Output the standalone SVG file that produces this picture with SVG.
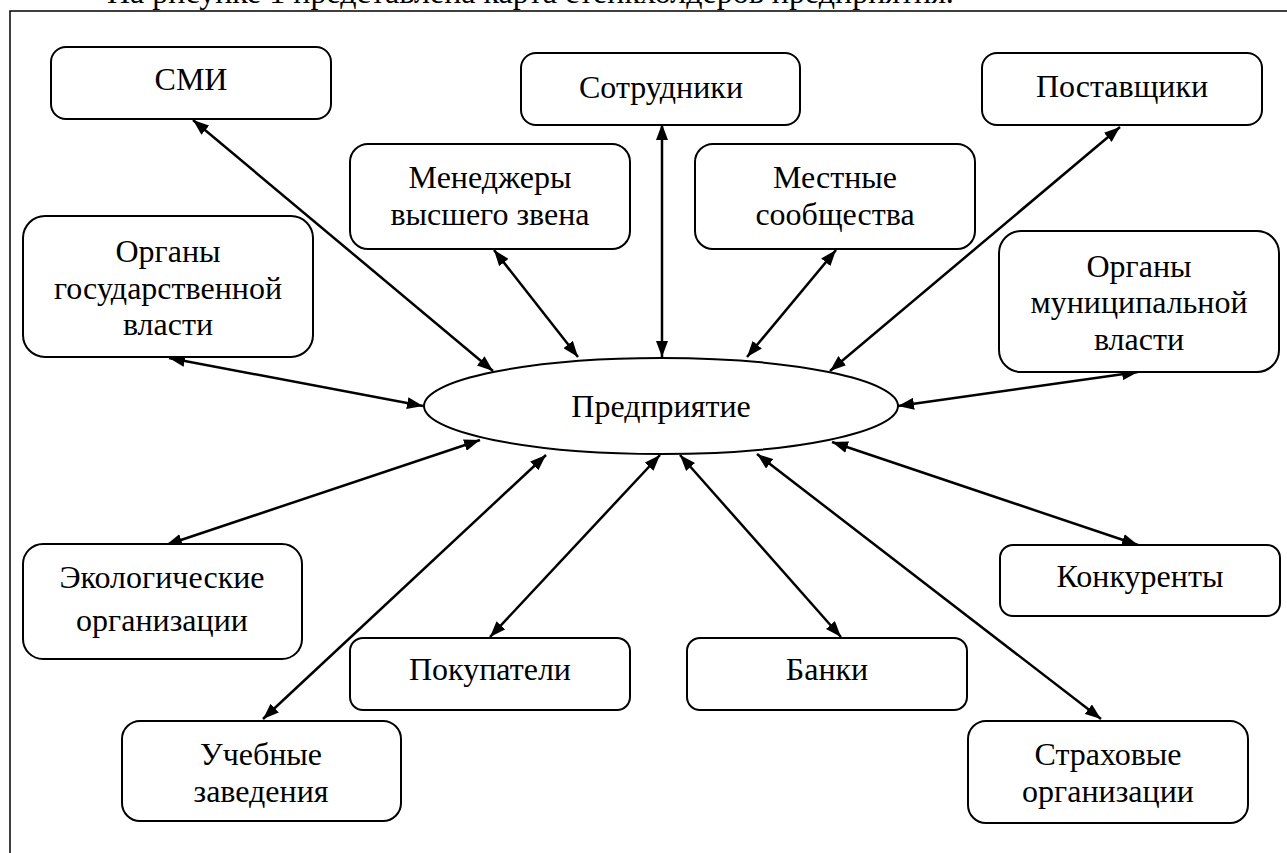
<svg xmlns="http://www.w3.org/2000/svg" width="1287" height="853" viewBox="0 0 1287 853">
<defs>
<marker id="ah" viewBox="0 0 16 12" refX="16" refY="6" markerWidth="16" markerHeight="12" markerUnits="userSpaceOnUse" orient="auto-start-reverse">
<path d="M0,0 L16,6 L0,12 Z" fill="#000"/>
</marker>
<style>
.box{fill:#fff;stroke:#000;stroke-width:2}
.t{font-family:'Liberation Serif',serif;font-size:32px;fill:#000;text-anchor:middle}
.c line{stroke:#000;stroke-width:2.5;marker-start:url(#ah);marker-end:url(#ah)}
</style>
</defs>
<rect width="1287" height="853" fill="#fff"/>
<text x="107" y="3" font-family="Liberation Serif, serif" font-size="32" fill="#000">На рисунке 1 представлена карта стейкхолдеров предприятия.</text>
<rect x="10" y="11" width="1300" height="900" fill="none" stroke="#000" stroke-width="1.5"/>

<g class="c" id="connectors">
<line x1="193" y1="120" x2="493" y2="371"/>
<line x1="494" y1="250" x2="578" y2="357"/>
<line x1="662" y1="124" x2="662" y2="357"/>
<line x1="836" y1="250" x2="747" y2="357"/>
<line x1="1120" y1="127" x2="830" y2="371"/>
<line x1="169" y1="358" x2="423" y2="406"/>
<line x1="1138" y1="372" x2="898" y2="406"/>
<line x1="166" y1="545" x2="480" y2="440"/>
<line x1="263" y1="719" x2="546" y2="455"/>
<line x1="490" y1="637" x2="660" y2="455"/>
<line x1="841" y1="637" x2="680" y2="455"/>
<line x1="1101" y1="719" x2="757" y2="454"/>
<line x1="1138" y1="545" x2="832" y2="442"/>
</g>

<g font-family="Liberation Serif, serif" font-size="32" text-anchor="middle">
<g id="center">
<ellipse cx="661" cy="406" rx="237" ry="48" class="box"/>
<text class="t" x="661" y="417">Предприятие</text>
</g>
<g id="smi">
<rect class="box" x="51" y="47" width="280" height="72" rx="15"/>
<text class="t" x="191" y="90">СМИ</text>
</g>
<g id="sotrudniki">
<rect class="box" x="521" y="53" width="279" height="72" rx="15"/>
<text class="t" x="661" y="98">Сотрудники</text>
</g>
<g id="postavshiki">
<rect class="box" x="982" y="53" width="280" height="72" rx="15"/>
<text class="t" x="1122" y="97">Поставщики</text>
</g>
<g id="menedzhery">
<rect class="box" x="350" y="144" width="280" height="105" rx="18"/>
<text class="t" x="490" y="188">Менеджеры</text>
<text class="t" x="490" y="225">высшего звена</text>
</g>
<g id="mestnye">
<rect class="box" x="695" y="144" width="280" height="105" rx="18"/>
<text class="t" x="835" y="188">Местные</text>
<text class="t" x="835" y="225">сообщества</text>
</g>
<g id="gos">
<rect class="box" x="23" y="216" width="290" height="141" rx="22"/>
<text class="t" x="168" y="262">Органы</text>
<text class="t" x="168" y="299">государственной</text>
<text class="t" x="168" y="335">власти</text>
</g>
<g id="mun">
<rect class="box" x="999" y="231" width="280" height="141" rx="22"/>
<text class="t" x="1139" y="277">Органы</text>
<text class="t" x="1139" y="313">муниципальной</text>
<text class="t" x="1139" y="350">власти</text>
</g>
<g id="eko">
<rect class="box" x="23" y="544" width="279" height="115" rx="20"/>
<text class="t" x="162" y="588">Экологические</text>
<text class="t" x="162" y="631">организации</text>
</g>
<g id="pokupateli">
<rect class="box" x="350" y="638" width="280" height="72" rx="13"/>
<text class="t" x="490" y="680">Покупатели</text>
</g>
<g id="banki">
<rect class="box" x="687" y="638" width="280" height="72" rx="13"/>
<text class="t" x="827" y="680">Банки</text>
</g>
<g id="konkurenty">
<rect class="box" x="1000" y="545" width="280" height="71" rx="13"/>
<text class="t" x="1140" y="587">Конкуренты</text>
</g>
<g id="uchebnye">
<rect class="box" x="122" y="721" width="279" height="100" rx="18"/>
<text class="t" x="261" y="765">Учебные</text>
<text class="t" x="261" y="802">заведения</text>
</g>
<g id="strahovye">
<rect class="box" x="968" y="721" width="280" height="102" rx="18"/>
<text class="t" x="1108" y="765">Страховые</text>
<text class="t" x="1108" y="802">организации</text>
</g>
</g>
</svg>
